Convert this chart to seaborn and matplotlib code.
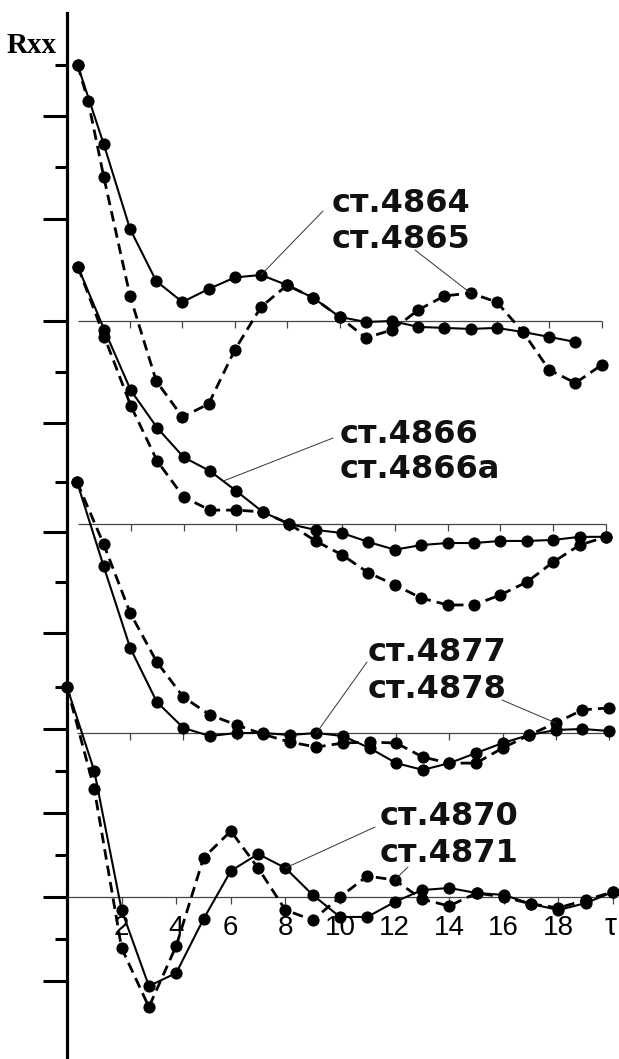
import matplotlib
matplotlib.use("Agg")
import matplotlib.pyplot as plt
import numpy as np
import pandas as pd
import seaborn as sns

# ---------------- data ----------------
tau = list(range(21))

tau_4864 = list(range(20))
r_4864 = [1.0, 0.69, 0.36, 0.156, 0.074, 0.125, 0.17, 0.18, 0.14, 0.09, 0.016,
          -0.004, 0.0, -0.023, -0.027, -0.031, -0.027, -0.043, -0.062, -0.082]
tau_4865 = [0, 0.4] + list(range(1, 21))
r_4865 = [1.0, 0.86, 0.5625, 0.098, -0.234, -0.375, -0.324, -0.113, 0.055, 0.14,
          0.09, 0.016, -0.066, -0.035, 0.043, 0.098, 0.109, 0.074, -0.043, -0.191,
          -0.242, -0.172]

r_4866 = [1.0, 0.755, 0.52, 0.374, 0.26, 0.206, 0.128, 0.047, 0.0, -0.023, -0.035,
          -0.07, -0.1, -0.082, -0.074, -0.074, -0.066, -0.066, -0.062, -0.05, -0.05]
r_4866a = [1.0, 0.728, 0.46, 0.245, 0.105, 0.054, 0.054, 0.047, 0.0, -0.066, -0.12,
           -0.19, -0.237, -0.288, -0.315, -0.315, -0.276, -0.226, -0.148, -0.082, -0.05]

r_4877 = [1.0, 0.665, 0.339, 0.124, 0.02, -0.012, 0.0, 0.0, -0.008, 0.0, -0.012,
          -0.06, -0.12, -0.147, -0.12, -0.08, -0.04, -0.008, 0.012, 0.016, 0.008]
r_4878 = [1.0, 0.753, 0.478, 0.283, 0.143, 0.072, 0.032, -0.005, -0.036, -0.056, -0.04,
          -0.036, -0.04, -0.096, -0.12, -0.12, -0.06, -0.008, 0.04, 0.092, 0.1]

r_4870 = [1.0, 0.6, -0.062, -0.424, -0.362, -0.105, 0.124, 0.205, 0.138, 0.01, -0.095,
          -0.095, -0.024, 0.033, 0.043, 0.019, 0.01, -0.033, -0.062, -0.029, 0.024]
r_4871 = [1.0, 0.514, -0.243, -0.524, -0.233, 0.186, 0.314, 0.138, -0.062, -0.11, 0.0,
          0.1, 0.081, -0.01, -0.043, 0.019, 0.0, -0.033, -0.052, -0.014, 0.024]

xtick_vals = [2, 4, 6, 8, 10, 12, 14, 16, 18, 20]
xtick_labels = ["2", "4", "6", "8", "10", "12", "14", "16", "18", "τ"]

# ---------------- layout (pixels, top-down) ----------------
FIG_W, FIG_H = 619, 1059
AX_L, AX_T = 67, 13
# per panel: x-origin px, px per tau unit, y of zero px, px per unit of R
calib = [
    (77.6, 26.2, 321, 256),
    (78.0, 26.4, 524, 257),
    (77.0, 26.6, 733, 251),
    (67.0, 27.3, 897, 210),
]

sns.set_style("white")
plt.rcParams["font.family"] = ["DejaVu Sans"]

fig = plt.figure(figsize=(FIG_W / 100, FIG_H / 100), dpi=100)
rect = [AX_L / FIG_W, 0, (FIG_W - AX_L) / FIG_W, (FIG_H - AX_T) / FIG_H]

axes = []
for i, (x0, xpu, y0, ypu) in enumerate(calib):
    ax = fig.add_axes(rect, label=f"p{i}")
    ax.set_facecolor("none")
    ax.set_xlim((AX_L - x0) / xpu, (FIG_W - x0) / xpu)
    ax.set_ylim((y0 - FIG_H) / ypu, (y0 - AX_T) / ypu)
    for s in ax.spines.values():
        s.set_visible(False)
    ax.set_xticks([])
    ax.set_yticks([])
    axes.append(ax)

ax1, ax2, ax3, ax4 = axes

# vertical axis line
ax1.spines["left"].set_visible(True)
ax1.spines["left"].set_linewidth(2.3)
ax1.spines["left"].set_color("black")

# left ticks (major long, minor short)
ytick_major = [[0.8, 0.4, 0.0, -0.4], [], [0.8, 0.4], [0.8, 0.4, 0.0, -0.4]]
ytick_minor = [[1.0, 0.6, -0.2], [], [1.0, 0.6], [1.0, 0.6, 0.2, -0.2]]
for ax, mj, mn in zip(axes, ytick_major, ytick_minor):
    ax.set_yticks(mj)
    ax.set_yticks(mn, minor=True)
    ax.tick_params(axis="y", which="major", direction="out", length=17, width=2.2,
                   color="black", left=True, labelleft=False)
    ax.tick_params(axis="y", which="minor", direction="out", length=8.5, width=2.2,
                   color="black", left=True, labelleft=False)

# baselines with small ticks
for ax, (x0, xpu, y0, ypu) in zip(axes, calib):
    ax.hlines(0, tau[0], tau[-1], color="#444444", lw=0.9, zorder=1)
    ax.vlines(xtick_vals, 0, -7 / ypu, color="#444444", lw=0.9, zorder=1)

solid_kw = dict(color="black", lw=1.5, marker="o", markersize=8,
                markeredgecolor="black", markerfacecolor="black", clip_on=False,
                sort=False, estimator=None, zorder=3)
dash_kw = dict(solid_kw, lw=2.0, linestyle=(0, (3.8, 2.2)))

sns.lineplot(x=tau_4864, y=r_4864, ax=ax1, **solid_kw)
sns.lineplot(x=tau_4865, y=r_4865, ax=ax1, **dash_kw)
sns.lineplot(x=tau, y=r_4866, ax=ax2, **solid_kw)
sns.lineplot(x=tau, y=r_4866a, ax=ax2, **dash_kw)
sns.lineplot(x=tau, y=r_4877, ax=ax3, **solid_kw)
sns.lineplot(x=tau, y=r_4878, ax=ax3, **dash_kw)
sns.lineplot(x=tau, y=r_4870, ax=ax4, **solid_kw)
sns.lineplot(x=tau, y=r_4871, ax=ax4, **dash_kw)
for ax in axes:
    if ax.get_legend() is not None:
        ax.get_legend().remove()

# bottom tick labels
for v, lab in zip(xtick_vals, xtick_labels):
    ax4.annotate(lab, xy=(v, 0), xytext=(-2 if lab == "τ" else 0, -38),
                 textcoords="offset pixels",
                 ha="center", va="baseline", fontsize=20 if lab != "τ" else 22,
                 family=["Liberation Sans", "DejaVu Sans"], color="black")

# leader lines and labels
def leader(ax, xy, start_px):
    ax.annotate("", xy=xy, xycoords="data",
                xytext=(start_px[0], FIG_H - start_px[1]), textcoords="figure pixels",
                arrowprops=dict(arrowstyle="-", color="#333333", lw=0.7,
                                shrinkA=0, shrinkB=0))

leader(ax1, (7, r_4864[7]), (323, 211))
leader(ax1, (15, r_4865[tau_4865.index(15)]), (415, 250))
leader(ax2, (5.5, (r_4866[5] + r_4866[6]) / 2), (333, 438))
leader(ax3, (9, r_4877[9]), (367, 662))
leader(ax3, (18, r_4878[18]), (502, 700))
leader(ax4, (8, r_4870[8]), (375, 827))
leader(ax4, (12, r_4871[12]), (408, 867))

labels = [
    ("ст.4864", 332, 212), ("ст.4865", 332, 248),
    ("ст.4866", 340, 443), ("ст.4866а", 340, 478),
    ("ст.4877", 368, 661), ("ст.4878", 368, 698),
    ("ст.4870", 380, 825), ("ст.4871", 380, 862),
]
for s, x, y in labels:
    fig.text(x / FIG_W, 1 - y / FIG_H, s, ha="left", va="baseline",
             fontsize=23, family=["DejaVu Sans"], fontweight="bold", color="#111111")

fig.text(57 / FIG_W, 1 - 53 / FIG_H, "Rxx", ha="right", va="baseline",
         fontsize=21, family=["Liberation Serif", "DejaVu Serif"],
         fontweight="bold", color="black")

fig.savefig("out.png", dpi=100)
